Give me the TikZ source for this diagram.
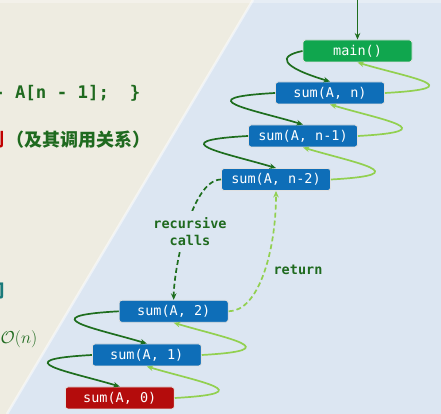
\documentclass[tikz,border=0pt]{standalone}
\usepackage{fontspec}
\newfontfamily\monofont{DejaVu Sans Mono}
\newfontfamily\cjk{Noto Sans CJK SC}
\usetikzlibrary{arrows.meta}
\definecolor{bgtan}{HTML}{EEECE1}
\definecolor{bgblue}{HTML}{DCE6F2}
\definecolor{nodeblue}{HTML}{0E6EB8}
\definecolor{nodegreen}{HTML}{10A64E}
\definecolor{nodered}{HTML}{B40C0C}
\definecolor{calldark}{HTML}{1E6E1E}
\definecolor{retlight}{HTML}{92D050}
\definecolor{txtgreen}{HTML}{1F6A1F}
\definecolor{txtteal}{HTML}{1A7A7A}
\definecolor{txtred}{HTML}{C00000}
\begin{document}
\begin{tikzpicture}[x=1pt,y=1pt,
  fnbox/.style={rectangle, rounded corners=2.5pt, fill=nodeblue, draw=white!88!black,
    line width=0.9pt, minimum width=109pt, minimum height=22pt, inner sep=0pt,
    text=white, font=\fontsize{13.5}{16}\selectfont\monofont},
  callarrow/.style={draw=calldark, line width=1.7pt, -{Stealth[length=6.5pt,width=5.5pt]}},
  retarrow/.style={draw=retlight, line width=1.7pt, -{Stealth[length=6.5pt,width=5.5pt]}},
  lbltext/.style={text=txtgreen, inner sep=0pt, font=\fontsize{13.5}{17.3}\selectfont\monofont\bfseries},
  lefttext/.style={anchor=base west, inner sep=0pt}
]
\useasboundingbox (0,0) rectangle (441,414);
% background
\fill[bgtan] (0,0) rectangle (441,414);
\fill[bgblue] (253,414) -- (441,414) -- (441,0) -- (7,0) -- cycle;
\draw[white, line width=2.5pt, opacity=0.5] (253,414) -- (7,0);
\fill[white, opacity=0.3] (0,411) rectangle (441,414);

% left-hand slide text (cut off)
\node[lefttext, text=txtgreen, font=\fontsize{17.36}{20}\selectfont\monofont\bfseries] (code) at (-6.1,315.7) {- A[n - 1];\ \ \}};
\node[anchor=base east, inner sep=0pt, text=txtred, font=\fontsize{18}{20}\selectfont\cjk\bfseries] (titlered) at (4.5,267.5) {例};
\node[lefttext, text=txtgreen, font=\fontsize{18}{20}\selectfont\cjk\bfseries] (title) at (6,267.5) {（及其调用关系）};
\node[lefttext, text=txtteal, font=\fontsize{18}{20}\selectfont\cjk\bfseries] (frag) at (-14,116.5) {间};
\node[anchor=base east, inner sep=0pt, text=txtgreen, font=\fontsize{17.4}{20}\selectfont] (bigo) at (37.5,70) {$\mathcal{O}(n)$};

% nodes
\node[fnbox, fill=nodegreen] (main) at (357.5,363) {main()};
\node[fnbox] (sumn) at (330,321) {sum(A, n)};
\node[fnbox] (sumn1) at (303,278) {sum(A, n-1)};
\node[fnbox] (sumn2) at (276,234.5) {sum(A, n-2)};
\node[fnbox] (sum2) at (173.7,102.7) {sum(A, 2)};
\node[fnbox] (sum1) at (146.8,59) {sum(A, 1)};
\node[fnbox, fill=nodered] (sum0) at (119.8,16) {sum(A, 0)};

% entry arrow
\coordinate (top) at (357.5,414);
\draw[callarrow] (top) -- (main.north);

% calls
\draw[callarrow] (main.west) .. controls +(-25,-5) and +(-50,15) .. (sumn.north);
\draw[callarrow] (sumn.west) .. controls +(-90,-5) and +(-50,15) .. (sumn1.north);
\draw[callarrow] (sumn1.west) .. controls +(-90,-5) and +(-50,15) .. (sumn2.north);
\draw[callarrow] (sum2.west) .. controls +(-90,-5) and +(-50,15) .. (sum1.north);
\draw[callarrow] (sum1.west) .. controls +(-90,-5) and +(-50,15) .. (sum0.north);

% returns
\draw[retarrow] (sumn.east) .. controls +(90,5) and +(50,-15) .. (main.south);
\draw[retarrow] (sumn1.east) .. controls +(90,5) and +(50,-15) .. (sumn.south);
\draw[retarrow] (sumn2.east) .. controls +(90,5) and +(50,-15) .. (sumn1.south);
\draw[retarrow] (sum1.east) .. controls +(90,5) and +(50,-15) .. (sum2.south);
\draw[retarrow] (sum0.east) .. controls +(90,5) and +(50,-15) .. (sum1.south);

% dashed skip
\draw[callarrow, dash pattern=on 5pt off 3pt] (sumn2.west) .. controls +(-30,0) and +(0,30) .. (sum2.north);
\draw[retarrow, dash pattern=on 5pt off 3pt] (sum2.east) .. controls +(30,0) and +(0,-60) .. (sumn2.south);

% labels
\node[lbltext, fill=bgblue, inner xsep=3pt, inner ysep=6pt, align=center] (rc) at (190,182.7) {recursive\\calls};
\node[lbltext] (rt) at (298,144) {return};
\end{tikzpicture}
\end{document}
